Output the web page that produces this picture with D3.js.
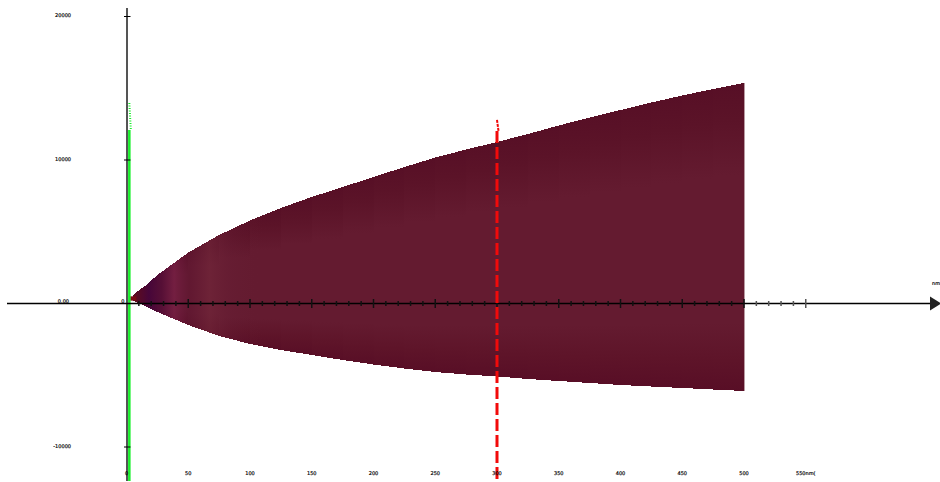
<!DOCTYPE html>
<html>
<head>
<meta charset="utf-8">
<script src="https://cdn.jsdelivr.net/npm/d3@7"></script>
<style>
html, body { margin: 0; padding: 0; background: #fff; }
svg { display: block; }
text { font-family: "DejaVu Sans", sans-serif; font-size: 5px; fill: #000; stroke: #000; stroke-width: 0.2; }
</style>
</head>
<body>
<div id="d3Chart"></div>
<script>
var wavelengths = [5, 8, 15, 25, 50, 75, 100, 125, 150, 175, 200, 225, 250, 275, 300, 325, 350, 375, 400, 425, 450, 475, 500];
var upperValues = [520, 800, 1220, 1986, 3554, 4774, 5784, 6655, 7422, 8118, 8815, 9512, 10174, 10732, 11254, 11812, 12404, 12962, 13484, 14007, 14495, 14948, 15366];
var lowerValues = [240, 90, -170, -592, -1498, -2265, -2822, -3240, -3589, -3937, -4251, -4530, -4774, -4948, -5087, -5261, -5401, -5540, -5679, -5784, -5889, -5993, -6098];

var xTicks = [50, 100, 150, 200, 250, 300, 350, 400, 450, 500, 550];
var xTickLabels = ["50", "100", "150", "200", "250", "300", "350", "400", "450", "500", "550nm("];
var yTicks = [20000, 10000, -10000];
var yTickLabels = ["20000", "10000", "-10000"];

var greenMarker = 2.3;
var greenTopValue = 12090;
var greenTipValue = 13970;
var redMarker = 300;
var redTopValue = 12020;
var redTipValue = 12790;

var width = 940, height = 482;

var x = d3.scaleLinear().domain([0, 550]).range([126.5, 805.75]);
var y = d3.scaleLinear().domain([-10000, 20000]).range([447, 16.5]);

var svg = d3.select("#d3Chart")
      .append("svg")
      .attr('width', width)
      .attr('height', height);

var defs = svg.append("defs");

// light in the middle of the band, dark on both edges
var bandShade = defs.append("linearGradient")
      .attr('id', 'bandShade')
      .attr('x1', 0).attr('x2', 0).attr('y1', 0).attr('y2', 1);
bandShade.append("stop").attr('offset', '0').attr('stop-color', '#570f26');
bandShade.append("stop").attr('offset', '0.12').attr('stop-color', '#5b1328');
bandShade.append("stop").attr('offset', '0.3').attr('stop-color', '#641b30');
bandShade.append("stop").attr('offset', '0.78').attr('stop-color', '#641b30');
bandShade.append("stop").attr('offset', '0.9').attr('stop-color', '#5e1429');
bandShade.append("stop").attr('offset', '1').attr('stop-color', '#580e26');

// the blotches near the narrow end
var sideShade = defs.append("linearGradient")
      .attr('id', 'sideShade')
      .attr('gradientUnits', 'userSpaceOnUse')
      .attr('x1', x(8)).attr('x2', x(110)).attr('y1', 0).attr('y2', 0);
sideShade.append("stop").attr('offset', '0').attr('stop-color', '#5a0a20').attr('stop-opacity', 0.9);
sideShade.append("stop").attr('offset', '0.1').attr('stop-color', '#45053a').attr('stop-opacity', 0.95);
sideShade.append("stop").attr('offset', '0.2').attr('stop-color', '#500a38').attr('stop-opacity', 0.7);
sideShade.append("stop").attr('offset', '0.3').attr('stop-color', '#7a2048').attr('stop-opacity', 0.7);
sideShade.append("stop").attr('offset', '0.42').attr('stop-color', '#5f1532').attr('stop-opacity', 0.5);
sideShade.append("stop").attr('offset', '0.58').attr('stop-color', '#74283c').attr('stop-opacity', 0.6);
sideShade.append("stop").attr('offset', '0.75').attr('stop-color', '#6a2037').attr('stop-opacity', 0.3);
sideShade.append("stop").attr('offset', '1').attr('stop-color', '#641b30').attr('stop-opacity', 0);

var band = wavelengths.map(function(d, i){
  return {w: d, up: upperValues[i], low: lowerValues[i]};
});

var area = d3.area()
      .x(function(d){ return x(d.w); })
      .y0(function(d){ return y(d.low); })
      .y1(function(d){ return y(d.up); });

var bandGroup = svg.append("g")
      .attr('class', 'bandGroup')
      .attr('shape-rendering', 'crispEdges');

// one piece per pair of points so the gradient follows the band's width
bandGroup.selectAll("path.piece")
      .data(d3.pairs(band))
      .enter()
      .append("path")
      .attr('class', 'piece')
      .attr('d', function(d){ return area(d); })
      .attr('fill', 'url(#bandShade)');

bandGroup.append("path")
      .attr('d', area(band))
      .attr('fill', 'url(#sideShade)');

// little dark red stub at the tip
svg.append("rect")
      .attr('x', x(3))
      .attr('y', y(500))
      .attr('width', x(8) - x(3))
      .attr('height', y(200) - y(500))
      .attr('fill', '#7a0a14');

// pale right edge of the band
svg.append("line")
      .attr('x1', x(500) + 0.5).attr('x2', x(500) + 0.5)
      .attr('y1', y(15366)).attr('y2', y(-6098))
      .attr('stroke', '#b89aa2')
      .attr('stroke-width', 1);

// y axis
svg.append("line")
      .attr('x1', x(0) + 0.5).attr('x2', x(0) + 0.5)
      .attr('y1', 8).attr('y2', 481)
      .attr('stroke', '#555')
      .attr('stroke-width', 2);

// green marker
svg.append("line")
      .attr('x1', x(greenMarker)).attr('x2', x(greenMarker))
      .attr('y1', y(greenTopValue)).attr('y2', 481)
      .attr('stroke', '#17f02a')
      .attr('stroke-width', 2.5);
svg.append("line")
      .attr('x1', x(greenMarker)).attr('x2', x(greenMarker) + 1.5)
      .attr('y1', y(greenTipValue)).attr('y2', y(greenTopValue))
      .attr('stroke', '#17f02a')
      .attr('stroke-width', 2)
      .attr('stroke-dasharray', '1, 1.5');

// x axis
svg.append("line")
      .attr('x1', 7).attr('x2', 931)
      .attr('y1', y(0)).attr('y2', y(0))
      .attr('stroke', 'black')
      .attr('stroke-width', 1.5);
svg.append("path")
      .attr('d', d3.line()([[930, y(0) - 7], [941, y(0)], [930, y(0) + 7]]) + "Z")
      .attr('fill', '#222');

var minorTicks = d3.range(10, 551, 10);

svg.append("g").selectAll("line")
      .data(minorTicks)
      .enter()
      .append("line")
      .attr('x1', function(d){ return x(d); })
      .attr('x2', function(d){ return x(d); })
      .attr('y1', function(d){ return y(0) - (d % 50 == 0 ? 4.5 : 2.5); })
      .attr('y2', function(d){ return y(0) + (d % 50 == 0 ? 4.5 : 2.5); })
      .attr('stroke', function(d){ return d > 500 ? '#555' : '#111'; })
      .attr('stroke-width', 1.5);

svg.append("g").selectAll("line")
      .data(yTicks)
      .enter()
      .append("line")
      .attr('x1', x(0) - 2.5)
      .attr('x2', x(0) + 4)
      .attr('y1', function(d){ return y(d); })
      .attr('y2', function(d){ return y(d); })
      .attr('stroke', 'black')
      .attr('stroke-width', 1);

// red marker
svg.append("line")
      .attr('x1', x(redMarker)).attr('x2', x(redMarker))
      .attr('y1', y(redTopValue)).attr('y2', 481)
      .attr('stroke', '#f20a0a')
      .attr('stroke-width', 3)
      .attr('stroke-dasharray', '12, 4');
svg.append("line")
      .attr('x1', x(redMarker)).attr('x2', x(redMarker) + 1.5)
      .attr('y1', y(redTipValue)).attr('y2', y(redTopValue))
      .attr('stroke', '#f20a0a')
      .attr('stroke-width', 2)
      .attr('stroke-dasharray', '3, 1');

// labels, the group opacity keeps them grey without colour fringes
var labels = svg.append("g").attr('opacity', 0.95);

labels.append("g").selectAll("text")
      .data(yTickLabels)
      .enter()
      .append("text")
      .attr('x', 71)
      .attr('y', function(d, i){ return y(yTicks[i]) + 0.5; })
      .attr('text-anchor', 'end')
      .text(function(d){ return d; });

labels.append("g").selectAll("text")
      .data(xTickLabels)
      .enter()
      .append("text")
      .attr('x', function(d, i){ return x(xTicks[i]); })
      .attr('y', 475)
      .attr('text-anchor', 'middle')
      .text(function(d){ return d; });

labels.append("text").attr('x', x(0)).attr('y', 475).attr('text-anchor', 'middle').text("0");
labels.append("text").attr('x', 69).attr('y', y(0) - 0.5).attr('text-anchor', 'end').text("0.00");
labels.append("text").attr('x', x(0) - 2).attr('y', y(0) - 0.5).attr('text-anchor', 'end').text("0");
labels.append("text").attr('x', 932).attr('y', 285).text("nm");
</script>
</body>
</html>
